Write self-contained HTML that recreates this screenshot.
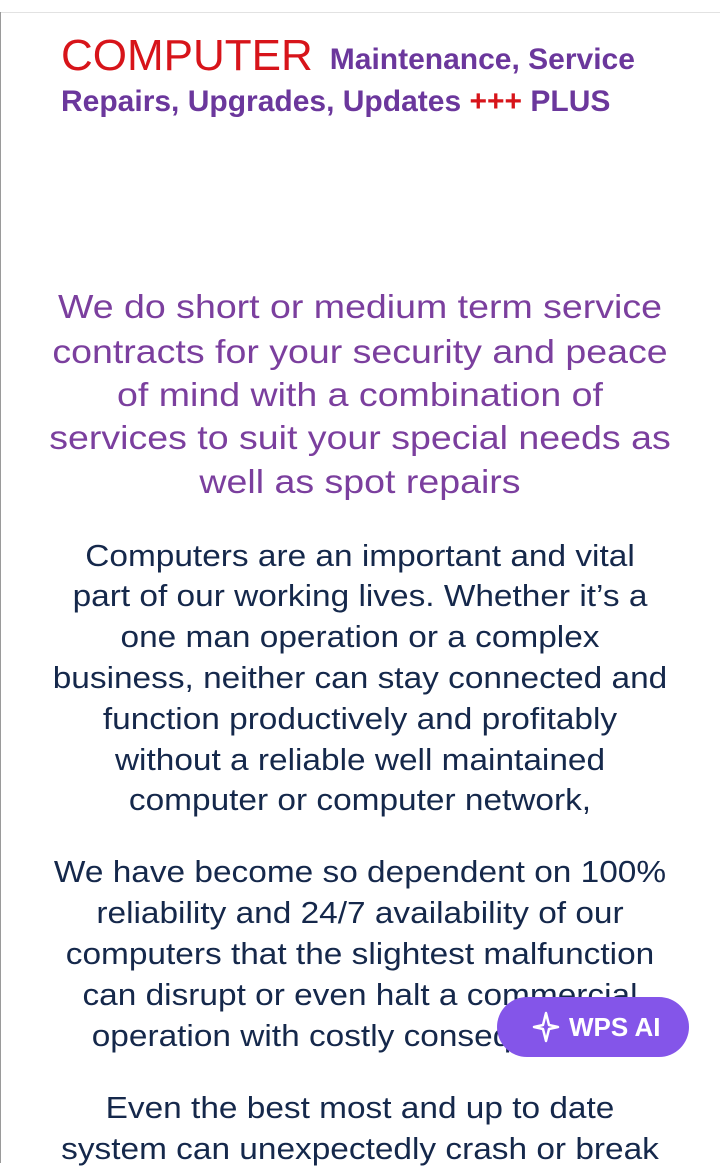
<!DOCTYPE html>
<html><head><meta charset="utf-8"><style>
html,body{margin:0;padding:0;background:#fff;}
body{width:720px;height:1163px;position:relative;overflow:hidden;font-family:"Liberation Sans",Arial,sans-serif;}
.topline{position:absolute;left:0;top:12px;width:720px;height:1px;background:#e2e2e2;}
.leftline{position:absolute;left:0;top:12px;width:1px;height:1151px;background:#9a9a9a;}
.ln{position:absolute;left:0;width:720px;text-align:center;height:40px;line-height:40px;white-space:nowrap;}
.p{color:#7b3f9e;font-size:33.5px;transform:scaleX(1.12);}
.d{color:#15284b;font-size:30.5px;transform:scaleX(1.095);}
.h{position:absolute;left:61px;white-space:nowrap;height:40px;line-height:40px;}
.wps{position:absolute;left:497px;top:997px;width:192px;height:60px;border-radius:30px;background:#8455e9;color:#fff;font-size:26px;font-weight:bold;line-height:60px;box-sizing:border-box;padding-left:72px;}
</style></head><body>
<div class="topline"></div>
<div class="leftline"></div>
<div class="h" style="top:36px"><span style="color:#d7141a;font-size:44px;">COMPUTER</span><span style="color:#6b379c;font-size:30px;font-weight:bold;position:relative;top:-1px;margin-left:17px;">Maintenance, Service</span></div>
<div class="h" style="top:82px;color:#6b379c;font-size:30px;font-weight:bold;">Repairs, Upgrades, Updates <span style="color:#d7141a">+++</span> PLUS</div>

<div>
<div class="ln p" style="top:288px">We do short or medium term service</div>
<div class="ln p" style="top:333px">contracts for your security and peace</div>
<div class="ln p" style="top:376px">of mind with a combination of</div>
<div class="ln p" style="top:419px">services to suit your special needs as</div>
<div class="ln p" style="top:463px">well as spot repairs</div>
</div>
<div>
<div class="ln d" style="top:536px">Computers are an important and vital</div>
<div class="ln d" style="top:576px">part of our working lives. Whether it’s a</div>
<div class="ln d" style="top:617px">one man operation or a complex</div>
<div class="ln d" style="top:658px">business, neither can stay connected and</div>
<div class="ln d" style="top:699px">function productively and profitably</div>
<div class="ln d" style="top:740px">without a reliable well maintained</div>
<div class="ln d" style="top:780px">computer or computer network,</div>
</div>
<div>
<div class="ln d" style="top:852px">We have become so dependent on 100%</div>
<div class="ln d" style="top:893px">reliability and 24/7 availability of our</div>
<div class="ln d" style="top:934px">computers that the slightest malfunction</div>
<div class="ln d" style="top:975px">can disrupt or even halt a commercial</div>
<div class="ln d" style="top:1016px">operation with costly consequences.</div>
</div>
<div>
<div class="ln d" style="top:1088px">Even the best most and up to date</div>
<div class="ln d" style="top:1129px">system can unexpectedly crash or break</div>
</div>
<div class="wps">
<svg style="position:absolute;left:34px;top:14px" width="30" height="32" viewBox="0 0 30 32"><path d="M15 2 L12 14 L3 16 L12 18 L15 30 L18 18 L27 16 L18 14 Z" fill="none" stroke="#fff" stroke-width="2.5" stroke-linejoin="round"/></svg>WPS AI</div>
</body></html>
